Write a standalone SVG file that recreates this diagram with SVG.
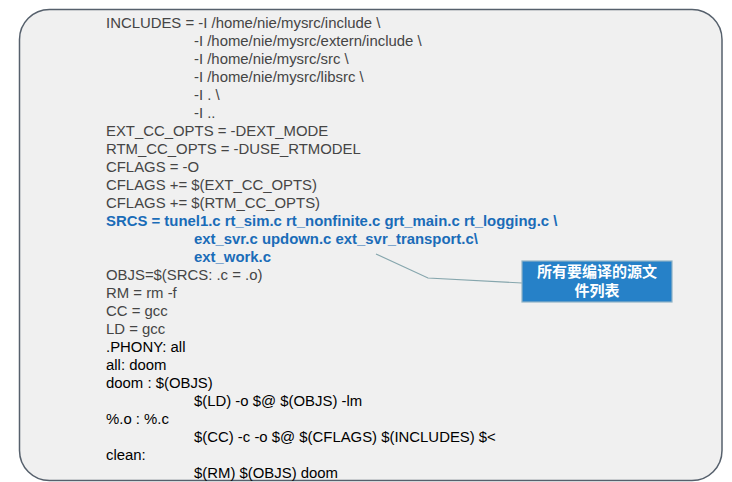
<svg xmlns="http://www.w3.org/2000/svg" width="732" height="482" viewBox="0 0 732 482">
<style>
.t{font-family:"Liberation Sans",Arial,sans-serif;font-size:14.9px;fill:#454545}
.k{fill:#000}
.b{fill:#1a6cb8;font-weight:bold}
.c{font-family:"Liberation Sans","Noto Sans CJK SC",sans-serif;font-size:15px;font-weight:bold;fill:#fff}
</style>
<rect width="732" height="482" fill="#fff"/>
<g id="panel">
<rect x="19.5" y="9.5" width="702.5" height="471" rx="30" ry="30" fill="#f0f0f0" stroke="#56606c" stroke-width="1.5"/>
</g>
<g id="code">
<text class="t" x="106" y="27.5">INCLUDES = -I /home/nie/mysrc/include \</text>
<text class="t" x="194" y="45.5">-I /home/nie/mysrc/extern/include \</text>
<text class="t" x="194" y="63.5">-I /home/nie/mysrc/src \</text>
<text class="t" x="194" y="81.5">-I /home/nie/mysrc/libsrc \</text>
<text class="t" x="194" y="99.5">-I . \</text>
<text class="t" x="194" y="117.5">-I ..</text>
<text class="t" x="106" y="135.5">EXT_CC_OPTS = -DEXT_MODE</text>
<text class="t" x="106" y="153.5">RTM_CC_OPTS = -DUSE_RTMODEL</text>
<text class="t" x="106" y="171.5">CFLAGS = -O</text>
<text class="t" x="106" y="189.5">CFLAGS += $(EXT_CC_OPTS)</text>
<text class="t" x="106" y="207.5">CFLAGS += $(RTM_CC_OPTS)</text>
<text class="t b" x="106" y="225.5">SRCS = tunel1.c rt_sim.c rt_nonfinite.c grt_main.c rt_logging.c \</text>
<text class="t b" x="194" y="243.5">ext_svr.c updown.c ext_svr_transport.c\</text>
<text class="t b" x="194" y="261.5">ext_work.c</text>
<text class="t" x="106" y="279.5">OBJS=$(SRCS: .c = .o)</text>
<text class="t" x="106" y="297.5">RM = rm -f</text>
<text class="t" x="106" y="315.5">CC = gcc</text>
<text class="t" x="106" y="333.5">LD = gcc</text>
<text class="t k" x="106" y="351.5">.PHONY: all</text>
<text class="t k" x="106" y="369.5">all: doom</text>
<text class="t k" x="106" y="387.5">doom : $(OBJS)</text>
<text class="t k" x="194" y="405.5">$(LD) -o $@ $(OBJS) -lm</text>
<text class="t k" x="106" y="423.5">%.o : %.c</text>
<text class="t k" x="194" y="441.5">$(CC) -c -o $@ $(CFLAGS) $(INCLUDES) $&lt;</text>
<text class="t k" x="106" y="459.5">clean:</text>
<text class="t k" x="194" y="477.5">$(RM) $(OBJS) doom</text>
</g>
<g id="connectors">
<polyline points="376,254 428,278 522,283" fill="none" stroke="#86a6ad" stroke-width="1.2"/>
</g>
<g id="callout">
<rect x="522" y="261" width="150" height="41" fill="#2681c8" stroke="#8fb3c6" stroke-width="1.2"/>
<text class="c" x="597" y="277" text-anchor="middle">所有要编译的源文</text>
<text class="c" x="597" y="296" text-anchor="middle">件列表</text>
</g>
</svg>
